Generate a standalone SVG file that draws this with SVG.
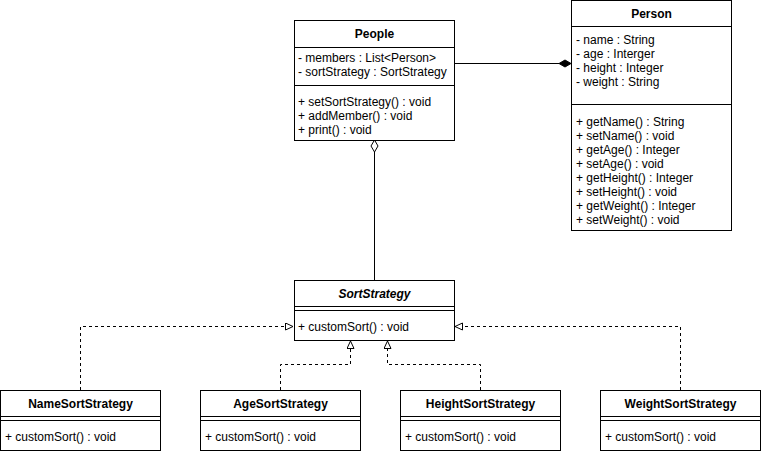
<svg xmlns="http://www.w3.org/2000/svg" width="761" height="454" viewBox="0 0 761 454">
<style>
.box{fill:#fff;stroke:#000;stroke-width:1}
.ln{stroke:#000;stroke-width:1;fill:none}
.dash{stroke:#000;stroke-width:1;fill:none;stroke-dasharray:3 3}
text{font-family:"Liberation Sans",Arial,sans-serif;font-size:12px;fill:#000}
.t{font-weight:bold;text-anchor:middle}
.ti{font-weight:bold;font-style:italic;text-anchor:middle}
</style>
<defs>
<marker id="tri" markerWidth="10" markerHeight="10" refX="8" refY="4" orient="auto" markerUnits="userSpaceOnUse">
<path d="M0.5,0.5 L8,4 L0.5,7.5 Z" fill="#fff" stroke="#000" stroke-width="1"/>
</marker>
</defs>
<rect width="761" height="454" fill="#fff"/>

<g id="connectors">
<line class="ln" x1="454" y1="63.5" x2="559" y2="63.5"/>
<path d="M559,63.5 L565,60 L571,63.5 L565,67 Z" fill="#000" stroke="#000"/>
<line class="ln" x1="374.5" y1="152" x2="374.5" y2="280"/>
<path d="M374.5,140 L378,146 L374.5,152 L371,146 Z" fill="#fff" stroke="#000"/>
<path class="dash" d="M80.5,390 V326.5 H293" marker-end="url(#tri)"/>
<path class="dash" d="M280.5,390 V364.5 H350.5 V341" marker-end="url(#tri)"/>
<path class="dash" d="M480.5,390 V364.5 H387.5 V341" marker-end="url(#tri)"/>
<path class="dash" d="M680.5,390 V326.5 H455" marker-end="url(#tri)"/>
</g>

<g id="People">
<rect class="box" x="294.5" y="20.5" width="160" height="120"/>
<line class="ln" x1="294.5" y1="47.5" x2="454.5" y2="47.5"/>
<line class="ln" x1="294.5" y1="85.5" x2="454.5" y2="85.5"/>
<text class="t" x="374.5" y="38">People</text>
<text x="298" y="62">- members : List&lt;Person&gt;</text>
<text x="298" y="76">- sortStrategy : SortStrategy</text>
<text x="298" y="106">+ setSortStrategy() : void</text>
<text x="298" y="120">+ addMember() : void</text>
<text x="298" y="134">+ print() : void</text>
</g>

<g id="Person">
<rect class="box" x="571.5" y="0.5" width="160" height="230"/>
<line class="ln" x1="571.5" y1="26.5" x2="731.5" y2="26.5"/>
<line class="ln" x1="571.5" y1="104.5" x2="731.5" y2="104.5"/>
<text class="t" x="651.5" y="18">Person</text>
<text x="576" y="44">- name : String</text>
<text x="576" y="58">- age : Interger</text>
<text x="576" y="72">- height : Integer</text>
<text x="576" y="86">- weight : String</text>
<text x="576" y="126">+ getName() : String</text>
<text x="576" y="140">+ setName() : void</text>
<text x="576" y="154">+ getAge() : Integer</text>
<text x="576" y="168">+ setAge() : void</text>
<text x="576" y="182">+ getHeight() : Integer</text>
<text x="576" y="196">+ setHeight() : void</text>
<text x="576" y="210">+ getWeight() : Integer</text>
<text x="576" y="224">+ setWeight() : void</text>
</g>

<g id="SortStrategy">
<rect class="box" x="294.5" y="280.5" width="160" height="60"/>
<line class="ln" x1="294.5" y1="306.5" x2="454.5" y2="306.5"/>
<line class="ln" x1="294.5" y1="310.5" x2="454.5" y2="310.5"/>
<text class="ti" x="374.5" y="298">SortStrategy</text>
<text x="298" y="331">+ customSort() : void</text>
</g>

<g id="NameSortStrategy">
<rect class="box" x="0.5" y="390.5" width="160" height="60"/>
<line class="ln" x1="0.5" y1="416.5" x2="160.5" y2="416.5"/>
<line class="ln" x1="0.5" y1="420.5" x2="160.5" y2="420.5"/>
<text class="t" x="80.5" y="408">NameSortStrategy</text>
<text x="5" y="441">+ customSort() : void</text>
</g>

<g id="AgeSortStrategy">
<rect class="box" x="200.5" y="390.5" width="160" height="60"/>
<line class="ln" x1="200.5" y1="416.5" x2="360.5" y2="416.5"/>
<line class="ln" x1="200.5" y1="420.5" x2="360.5" y2="420.5"/>
<text class="t" x="280.5" y="408">AgeSortStrategy</text>
<text x="205" y="441">+ customSort() : void</text>
</g>

<g id="HeightSortStrategy">
<rect class="box" x="400.5" y="390.5" width="160" height="60"/>
<line class="ln" x1="400.5" y1="416.5" x2="560.5" y2="416.5"/>
<line class="ln" x1="400.5" y1="420.5" x2="560.5" y2="420.5"/>
<text class="t" x="480.5" y="408">HeightSortStrategy</text>
<text x="405" y="441">+ customSort() : void</text>
</g>

<g id="WeightSortStrategy">
<rect class="box" x="600.5" y="390.5" width="160" height="60"/>
<line class="ln" x1="600.5" y1="416.5" x2="760.5" y2="416.5"/>
<line class="ln" x1="600.5" y1="420.5" x2="760.5" y2="420.5"/>
<text class="t" x="680.5" y="408">WeightSortStrategy</text>
<text x="605" y="441">+ customSort() : void</text>
</g>
</svg>
